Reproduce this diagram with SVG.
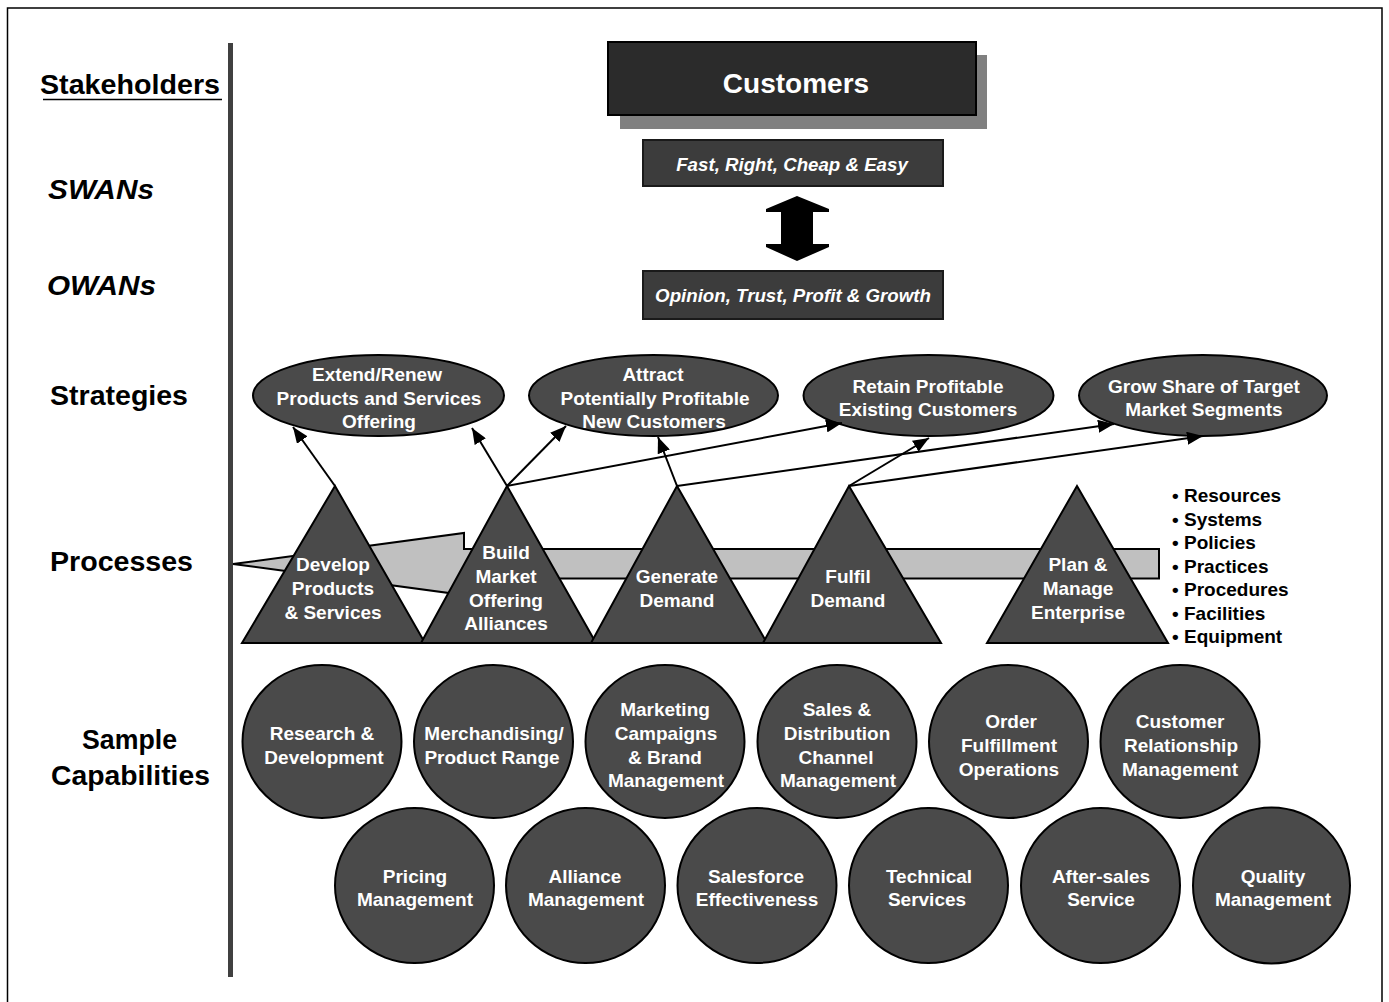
<svg xmlns="http://www.w3.org/2000/svg" width="1389" height="1002" viewBox="0 0 1389 1002">
<defs>
<marker id="ah" markerUnits="userSpaceOnUse" markerWidth="17" markerHeight="13" refX="16" refY="6.5" orient="auto">
<path d="M0,0 L16,6.5 L0,13 z" fill="#000"/>
</marker>
<style>
text{font-family:"Liberation Sans",Arial,Helvetica,sans-serif;font-weight:bold}
.lbl{fill:#000;font-size:27px}
.it{font-style:italic}
.w{fill:#fff;font-size:19px;text-anchor:middle}
.wb{fill:#fff;font-size:18.7px;text-anchor:middle;font-style:italic}
.node{fill:#4a4a4a;stroke:#000;stroke-width:2}
.box{fill:#3c3c3c;stroke:#1a1a1a;stroke-width:2}
.con{stroke:#000;stroke-width:2;fill:none;marker-end:url(#ah)}
.bul{fill:#000;font-size:19px}
</style>
</defs>
<rect width="1389" height="1002" fill="#fff"/>
<path d="M7.5,1002 V8 H1382 V1002" fill="none" stroke="#000" stroke-width="1.5"/>
<rect x="228" y="43" width="5" height="934" fill="#404040"/>

<g id="labels">
<text class="lbl" x="40" y="93.5" textLength="180" lengthAdjust="spacingAndGlyphs">Stakeholders</text>
<line x1="43" y1="99.5" x2="222" y2="99.5" stroke="#000" stroke-width="1.5"/>
<text class="lbl it" x="48" y="199" textLength="106" lengthAdjust="spacingAndGlyphs">SWANs</text>
<text class="lbl it" x="47" y="295" textLength="109" lengthAdjust="spacingAndGlyphs">OWANs</text>
<text class="lbl" x="50" y="404.5" textLength="138" lengthAdjust="spacingAndGlyphs">Strategies</text>
<text class="lbl" x="50" y="570.5" textLength="143" lengthAdjust="spacingAndGlyphs">Processes</text>
<text class="lbl" x="82" y="748.5" textLength="95" lengthAdjust="spacingAndGlyphs">Sample</text>
<text class="lbl" x="51" y="784.5" textLength="159" lengthAdjust="spacingAndGlyphs">Capabilities</text>
</g>

<g id="customers">
<rect x="620" y="55" width="367" height="74" fill="#808080"/>
<rect x="608" y="42" width="368" height="73" fill="#2b2b2b" stroke="#000" stroke-width="2"/>
<text x="796" y="93" fill="#fff" font-size="28" text-anchor="middle">Customers</text>
</g>
<g id="swans">
<rect class="box" x="643" y="140" width="300" height="46"/>
<text class="wb" x="792" y="171">Fast, Right, Cheap &amp; Easy</text>
</g>
<g id="owans">
<rect class="box" x="643" y="271" width="300" height="48"/>
<text class="wb" x="793" y="302">Opinion, Trust, Profit &amp; Growth</text>
</g>
<g id="double-arrow">
<polygon points="797,196 829,209 829,212 813,212 813,244 829,244 829,247 797,261 766,247 766,244 781,244 781,212 766,212 766,209" fill="#000"/>
</g>

<g id="strategy-1">
<ellipse class="node" cx="378.5" cy="395.5" rx="125.5" ry="40.5"/>
<text class="w" x="377" y="381">Extend/Renew</text>
<text class="w" x="379" y="405">Products and Services</text>
<text class="w" x="379" y="428">Offering</text>
</g>
<g id="strategy-2">
<ellipse class="node" cx="653.5" cy="395.5" rx="124.5" ry="40.5"/>
<text class="w" x="653" y="381">Attract</text>
<text class="w" x="655" y="405">Potentially Profitable</text>
<text class="w" x="654" y="428">New Customers</text>
</g>
<g id="strategy-3">
<ellipse class="node" cx="928.5" cy="395.5" rx="125" ry="40.5"/>
<text class="w" x="928" y="393">Retain Profitable</text>
<text class="w" x="928" y="416">Existing Customers</text>
</g>
<g id="strategy-4">
<ellipse class="node" cx="1203" cy="395.5" rx="124" ry="40.5"/>
<text class="w" x="1204" y="393">Grow Share of Target</text>
<text class="w" x="1204" y="416">Market Segments</text>
</g>

<g id="process-band">
<polygon points="233,564 464,533 464,549 1159,549 1159,578.5 464,578.5 464,595" fill="#c0c0c0" stroke="#000" stroke-width="2" stroke-linejoin="miter"/>
</g>

<g id="connectors">
<line class="con" x1="335" y1="486" x2="293" y2="427"/>
<line class="con" x1="507" y1="486" x2="472" y2="428"/>
<line class="con" x1="507" y1="486" x2="566" y2="426"/>
<line class="con" x1="507" y1="486" x2="842" y2="423"/>
<line class="con" x1="677" y1="486" x2="658" y2="437"/>
<line class="con" x1="677" y1="486" x2="1114" y2="424"/>
<line class="con" x1="849" y1="486" x2="929" y2="438"/>
<line class="con" x1="849" y1="486" x2="1203" y2="436"/>
</g>

<g id="process-1">
<polygon class="node" points="335,486 425,643 242,643"/>
<text class="w" x="333" y="571">Develop</text>
<text class="w" x="333" y="595">Products</text>
<text class="w" x="333" y="619">&amp; Services</text>
</g>
<g id="process-2">
<polygon class="node" points="507,486 596,643 421,643"/>
<text class="w" x="506" y="559">Build</text>
<text class="w" x="506" y="583">Market</text>
<text class="w" x="506" y="607">Offering</text>
<text class="w" x="506" y="630">Alliances</text>
</g>
<g id="process-3">
<polygon class="node" points="677,486 767,643 591,643"/>
<text class="w" x="677" y="583">Generate</text>
<text class="w" x="677" y="607">Demand</text>
</g>
<g id="process-4">
<polygon class="node" points="849,486 941,643 763,643"/>
<text class="w" x="848" y="583">Fulfil</text>
<text class="w" x="848" y="607">Demand</text>
</g>
<g id="process-5">
<polygon class="node" points="1077,486 1168,643 987,643"/>
<text class="w" x="1078" y="571">Plan  &amp;</text>
<text class="w" x="1078" y="595">Manage</text>
<text class="w" x="1078" y="619">Enterprise</text>
</g>

<g id="resources-list">
<text class="bul" x="1172" y="502">• <tspan x="1184">Resources</tspan></text>
<text class="bul" x="1172" y="525.5">• <tspan x="1184">Systems</tspan></text>
<text class="bul" x="1172" y="549">• <tspan x="1184">Policies</tspan></text>
<text class="bul" x="1172" y="572.5">• <tspan x="1184">Practices</tspan></text>
<text class="bul" x="1172" y="596">• <tspan x="1184">Procedures</tspan></text>
<text class="bul" x="1172" y="619.5">• <tspan x="1184">Facilities</tspan></text>
<text class="bul" x="1172" y="643">• <tspan x="1184">Equipment</tspan></text>
</g>

<g id="cap-rnd">
<ellipse class="node" cx="322" cy="741.5" rx="79.5" ry="76.5"/>
<text class="w" x="322" y="740">Research &amp;</text>
<text class="w" x="324" y="764">Development</text>
</g>
<g id="cap-merch">
<ellipse class="node" cx="493.5" cy="741.5" rx="79.5" ry="76.5"/>
<text class="w" x="494" y="740">Merchandising/</text>
<text class="w" x="492" y="764">Product Range</text>
</g>
<g id="cap-marketing">
<ellipse class="node" cx="665" cy="741.5" rx="79.5" ry="76.5"/>
<text class="w" x="665" y="716">Marketing</text>
<text class="w" x="666" y="740">Campaigns</text>
<text class="w" x="665" y="764">&amp; Brand</text>
<text class="w" x="666" y="787">Management</text>
</g>
<g id="cap-sales">
<ellipse class="node" cx="837" cy="741.5" rx="79.5" ry="76.5"/>
<text class="w" x="837" y="716">Sales &amp;</text>
<text class="w" x="837" y="740">Distribution</text>
<text class="w" x="836" y="764">Channel</text>
<text class="w" x="838" y="787">Management</text>
</g>
<g id="cap-order">
<ellipse class="node" cx="1008.5" cy="741.5" rx="79.5" ry="76.5"/>
<text class="w" x="1011" y="728">Order</text>
<text class="w" x="1009" y="752">Fulfillment</text>
<text class="w" x="1009" y="776">Operations</text>
</g>
<g id="cap-crm">
<ellipse class="node" cx="1180" cy="741.5" rx="79.5" ry="76.5"/>
<text class="w" x="1180" y="728">Customer</text>
<text class="w" x="1181" y="752">Relationship</text>
<text class="w" x="1180" y="776">Management</text>
</g>
<g id="cap-pricing">
<ellipse class="node" cx="414.5" cy="885.5" rx="79.5" ry="77.5"/>
<text class="w" x="415" y="883">Pricing</text>
<text class="w" x="415" y="906">Management</text>
</g>
<g id="cap-alliance">
<ellipse class="node" cx="585.5" cy="885.5" rx="79.5" ry="77.5"/>
<text class="w" x="585" y="883">Alliance</text>
<text class="w" x="586" y="906">Management</text>
</g>
<g id="cap-salesforce">
<ellipse class="node" cx="757" cy="885.5" rx="79.5" ry="77.5"/>
<text class="w" x="756" y="883">Salesforce</text>
<text class="w" x="757" y="906">Effectiveness</text>
</g>
<g id="cap-technical">
<ellipse class="node" cx="928.5" cy="885.5" rx="79.5" ry="77.5"/>
<text class="w" x="929" y="883">Technical</text>
<text class="w" x="927" y="906">Services</text>
</g>
<g id="cap-aftersales">
<ellipse class="node" cx="1100.5" cy="885.5" rx="79.5" ry="77.5"/>
<text class="w" x="1101" y="883">After-sales</text>
<text class="w" x="1101" y="906">Service</text>
</g>
<g id="cap-quality">
<ellipse class="node" cx="1271.5" cy="885.5" rx="78.5" ry="78"/>
<text class="w" x="1273" y="883">Quality</text>
<text class="w" x="1273" y="906">Management</text>
</g>
</svg>
